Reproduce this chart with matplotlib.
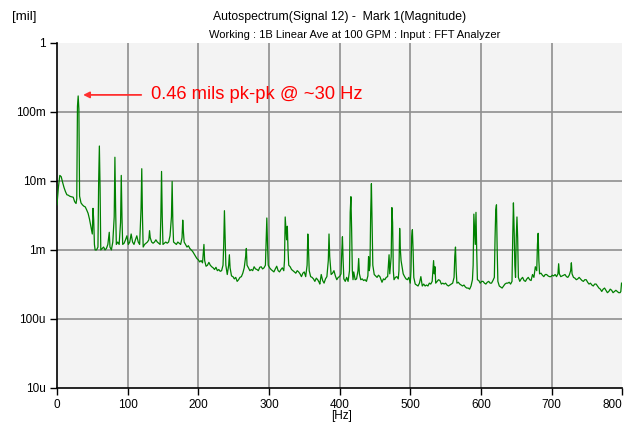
import matplotlib
matplotlib.use('Agg')
import matplotlib.pyplot as plt
import numpy as np

plt.rcParams['font.family'] = ['Liberation Sans', 'DejaVu Sans']

# spectrum: frequency [Hz], magnitude [milli-mil]
freq_hz = [
    0, 2, 4, 6, 8, 10, 12, 14, 16, 18, 20, 23, 25, 27, 28, 29, 30, 31, 32, 34,
    36, 38, 40, 42, 44, 46, 48, 50, 51, 52, 53, 54, 56, 58, 59, 60, 61, 62, 64, 66,
    68, 70, 72, 74, 75, 77, 79, 81, 82, 83, 84, 86, 88, 90, 91, 92, 93, 95, 97, 99,
    101, 103, 105, 107, 109, 111, 113, 115, 117, 119, 120, 121, 122, 124, 126, 128, 130, 131, 132, 134,
    136, 138, 140, 142, 144, 146, 147, 148, 149, 150, 152, 154, 156, 158, 160, 162, 163, 164, 165, 167,
    169, 171, 173, 175, 177, 178, 179, 180, 182, 184, 186, 188, 190, 192, 194, 196, 198, 200, 202, 204,
    206, 207, 208, 209, 211, 213, 215, 217, 219, 221, 223, 225, 227, 229, 231, 233, 235, 236, 237, 238,
    239, 241, 243, 244, 245, 247, 249, 251, 253, 255, 257, 259, 261, 263, 265, 267, 268, 269, 271, 273,
    275, 277, 279, 281, 283, 285, 287, 289, 291, 293, 295, 296, 297, 298, 299, 301, 303, 305, 307, 309,
    311, 313, 315, 317, 319, 321, 322, 323, 324, 325, 326, 327, 328, 330, 332, 334, 336, 338, 340, 342,
    344, 346, 348, 350, 352, 354, 355, 356, 357, 359, 361, 363, 365, 367, 369, 371, 372, 374, 376, 378,
    380, 382, 384, 385, 386, 388, 390, 392, 394, 396, 398, 400, 402, 403, 404, 405, 406, 408, 410, 412,
    414, 415, 416, 417, 418, 419, 420, 422, 424, 426, 427, 428, 430, 432, 434, 436, 438, 440, 441, 442,
    443, 444, 445, 446, 447, 449, 451, 453, 455, 457, 459, 460, 462, 464, 466, 468, 469, 470, 471, 473,
    474, 475, 476, 477, 479, 481, 483, 484, 485, 486, 487, 488, 490, 492, 494, 496, 498, 500, 501, 502,
    503, 504, 505, 507, 509, 511, 513, 515, 517, 519, 521, 523, 525, 527, 529, 531, 532, 533, 534, 535,
    536, 538, 540, 542, 544, 546, 548, 550, 552, 554, 556, 558, 560, 562, 563, 564, 565, 566, 568, 570,
    572, 574, 576, 578, 580, 582, 584, 586, 588, 589, 590, 591, 592, 593, 594, 595, 597, 599, 601, 603,
    605, 607, 609, 611, 613, 615, 617, 619, 620, 621, 622, 623, 624, 626, 628, 630, 632, 634, 636, 638,
    640, 642, 644, 645, 646, 647, 648, 649, 650, 651, 652, 653, 655, 657, 659, 661, 663, 665, 667, 669,
    671, 673, 675, 677, 679, 680, 681, 682, 683, 685, 687, 689, 691, 693, 695, 697, 699, 701, 703, 705,
    707, 709, 710, 711, 713, 715, 717, 719, 721, 723, 725, 727, 728, 729, 731, 733, 735, 737, 739, 741,
    743, 745, 747, 749, 751, 753, 755, 757, 759, 761, 763, 765, 767, 769, 771, 773, 775, 777, 779, 781,
    783, 785, 787, 789, 791, 793, 795, 797, 798, 799,
]
mag_m = [
    4.5, 8, 12, 11.5, 9.5, 8, 7, 6.3, 6.2, 6, 5.9, 5.8, 5, 4.7, 5.5, 120, 170, 110, 6, 4.8,
    4.5, 4.3, 4.2, 3.8, 3.4, 2.8, 2.2, 1.7, 4, 2.7, 1.2, 1.0, 1.0, 1.1, 10, 32, 8, 1.0, 1.05, 1.1,
    1.0, 1.05, 1.2, 1.8, 1.1, 1.0, 1.3, 3, 22, 4, 1.2, 1.3, 1.2, 2.5, 12, 3, 1.2, 1.25, 1.4, 1.6,
    1.2, 1.3, 1.7, 1.3, 1.2, 1.4, 1.6, 1.3, 1.2, 4, 15, 3, 1.1, 1.2, 1.25, 1.3, 1.4, 1.9, 1.5, 1.3,
    1.25, 1.3, 1.4, 1.3, 1.25, 1.2, 3, 13.7, 3, 1.2, 1.25, 1.3, 1.25, 1.3, 1.6, 3, 9.8, 2.5, 1.3, 1.25,
    1.2, 1.3, 1.25, 1.2, 1.5, 2.7, 1.8, 1.3, 1.2, 1.1, 1.15, 1.05, 1.0, 0.95, 0.88, 0.82, 0.75, 0.72, 0.67, 0.7,
    0.65, 0.9, 1.2, 0.7, 0.58, 0.6, 0.66, 0.6, 0.57, 0.55, 0.52, 0.56, 0.5, 0.52, 0.49, 0.5, 0.6, 1.2, 3.7, 1.5,
    0.6, 0.44, 0.6, 0.85, 0.55, 0.42, 0.41, 0.38, 0.4, 0.35, 0.37, 0.4, 0.41, 0.46, 0.55, 0.8, 1.05, 0.6, 0.55, 0.5,
    0.52, 0.5, 0.57, 0.53, 0.52, 0.5, 0.56, 0.57, 0.53, 0.55, 0.6, 1.4, 2.9, 1.2, 0.6, 0.55, 0.52, 0.5, 0.48, 0.53,
    0.58, 0.5, 0.48, 0.52, 0.55, 0.5, 0.7, 3.0, 2.0, 1.4, 2.2, 1.0, 0.6, 0.57, 0.52, 0.5, 0.48, 0.46, 0.5, 0.48,
    0.45, 0.41, 0.46, 0.48, 0.41, 0.6, 1.7, 1.0, 0.5, 0.41, 0.4, 0.38, 0.35, 0.39, 0.37, 0.34, 0.32, 0.44, 0.36, 0.33,
    0.38, 0.41, 0.7, 1.7, 0.8, 0.44, 0.46, 0.5, 0.42, 0.37, 0.4, 0.41, 0.45, 0.9, 1.55, 0.7, 0.38, 0.35, 0.4, 0.35,
    0.5, 3.5, 5.9, 2, 0.5, 0.37, 0.48, 0.37, 0.38, 0.5, 0.75, 0.45, 0.37, 0.38, 0.36, 0.37, 0.35, 0.42, 0.8, 0.5,
    0.6, 3.5, 9.1, 2.5, 0.6, 0.44, 0.42, 0.4, 0.43, 0.41, 0.36, 0.34, 0.38, 0.37, 0.4, 0.41, 0.6, 0.85, 0.45, 0.8,
    4.1, 2.5, 0.5, 0.37, 0.4, 0.41, 0.38, 0.5, 2.05, 1.0, 0.7, 0.6, 0.45, 0.41, 0.38, 0.37, 0.4, 0.33, 0.5, 1.56,
    1.96, 1.0, 0.4, 0.32, 0.31, 0.3, 0.33, 0.41, 0.3, 0.32, 0.3, 0.31, 0.3, 0.33, 0.32, 0.35, 0.5, 0.7, 0.45, 0.57,
    0.33, 0.35, 0.37, 0.36, 0.32, 0.33, 0.32, 0.33, 0.31, 0.3, 0.31, 0.32, 0.33, 0.4, 0.8, 1.1, 0.5, 0.33, 0.34, 0.32,
    0.31, 0.3, 0.31, 0.29, 0.28, 0.28, 0.27, 0.3, 0.37, 0.6, 3.3, 2.0, 1.2, 3.5, 1.0, 0.37, 0.36, 0.33, 0.35, 0.35,
    0.33, 0.32, 0.34, 0.35, 0.33, 0.33, 0.36, 0.4, 1.5, 3.8, 4.5, 1.0, 0.35, 0.3, 0.29, 0.28, 0.3, 0.32, 0.33, 0.33,
    0.34, 0.32, 0.35, 1.5, 4.8, 2.0, 0.6, 0.4, 1.5, 3.0, 1.5, 0.4, 0.35, 0.38, 0.4, 0.36, 0.35, 0.38, 0.4, 0.37,
    0.36, 0.44, 0.4, 0.57, 0.5, 1.2, 1.74, 0.7, 0.45, 0.46, 0.43, 0.41, 0.44, 0.44, 0.42, 0.41, 0.41, 0.43, 0.42, 0.44,
    0.41, 0.45, 0.63, 0.45, 0.41, 0.42, 0.43, 0.44, 0.41, 0.4, 0.43, 0.5, 0.65, 0.45, 0.4, 0.39, 0.37, 0.38, 0.4, 0.38,
    0.36, 0.35, 0.37, 0.37, 0.34, 0.32, 0.33, 0.31, 0.3, 0.32, 0.32, 0.3, 0.28, 0.27, 0.25, 0.27, 0.28, 0.26, 0.24, 0.25,
    0.27, 0.26, 0.24, 0.25, 0.26, 0.25, 0.24, 0.24, 0.25, 0.33,
]

y_ticks = [1e-5, 1e-4, 1e-3, 1e-2, 1e-1, 1]
y_tick_labels = ['10u', '100u', '1m', '10m', '100m', '1']
x_ticks = [0, 100, 200, 300, 400, 500, 600, 700, 800]

title_1 = 'Autospectrum(Signal 12) -  Mark 1(Magnitude)'
title_2 = 'Working : 1B Linear Ave at 100 GPM : Input : FFT Analyzer'
note = '0.46 mils pk-pk @ ~30 Hz'

mag_mil = np.array(mag_m) * 1e-3

fig = plt.figure(figsize=(6.33, 4.24), dpi=100)
ax = fig.add_axes([0.090, 0.085, 0.893, 0.814])
ax.set_facecolor('#f3f3f3')

# grid only inside the plot area, none on the borders
for x in x_ticks[1:-1]:
    ax.axvline(x, color='#8f8f8f', lw=1.2, zorder=1)
for y in y_ticks[1:-1]:
    ax.axhline(y, color='#8f8f8f', lw=1.2, zorder=1)

ax.plot(freq_hz, mag_mil, color='#008000', lw=0.9, zorder=3)

ax.set_yscale('log')
ax.set_ylim(1e-5, 1)
ax.set_xlim(0, 800)
ax.set_yticks(y_ticks)
ax.set_yticklabels(y_tick_labels)
ax.minorticks_off()
ax.set_xticks(x_ticks)
ax.set_xticklabels([str(x) for x in x_ticks])
ax.get_xticklabels()[-1].set_horizontalalignment('right')
ax.tick_params(axis='both', direction='out', length=5, width=1, labelsize=8.5, pad=3)

for side in ['top', 'right']:
    ax.spines[side].set_visible(False)
for side in ['left', 'bottom']:
    ax.spines[side].set_linewidth(1.2)

ax.annotate(note, xy=(37, 0.176), xytext=(133, 0.176),
            color='red', fontsize=13.2, va='center', ha='left',
            arrowprops=dict(arrowstyle='-|>', color='#ff3030', lw=1.3,
                            mutation_scale=9, shrinkA=5, shrinkB=0))

fig.text(340 / 633, 1 - 17 / 424, title_1, ha='center', va='center', fontsize=8.8)
fig.text(355 / 633, 1 - 35 / 424, title_2, ha='center', va='center', fontsize=8)
fig.text(12 / 633, 1 - 17 / 424, '[mil]', ha='left', va='center', fontsize=9.5)
fig.text(342 / 633, 1 - 416 / 424, '[Hz]', ha='center', va='center', fontsize=8.5)

fig.savefig('out.png', dpi=100)
